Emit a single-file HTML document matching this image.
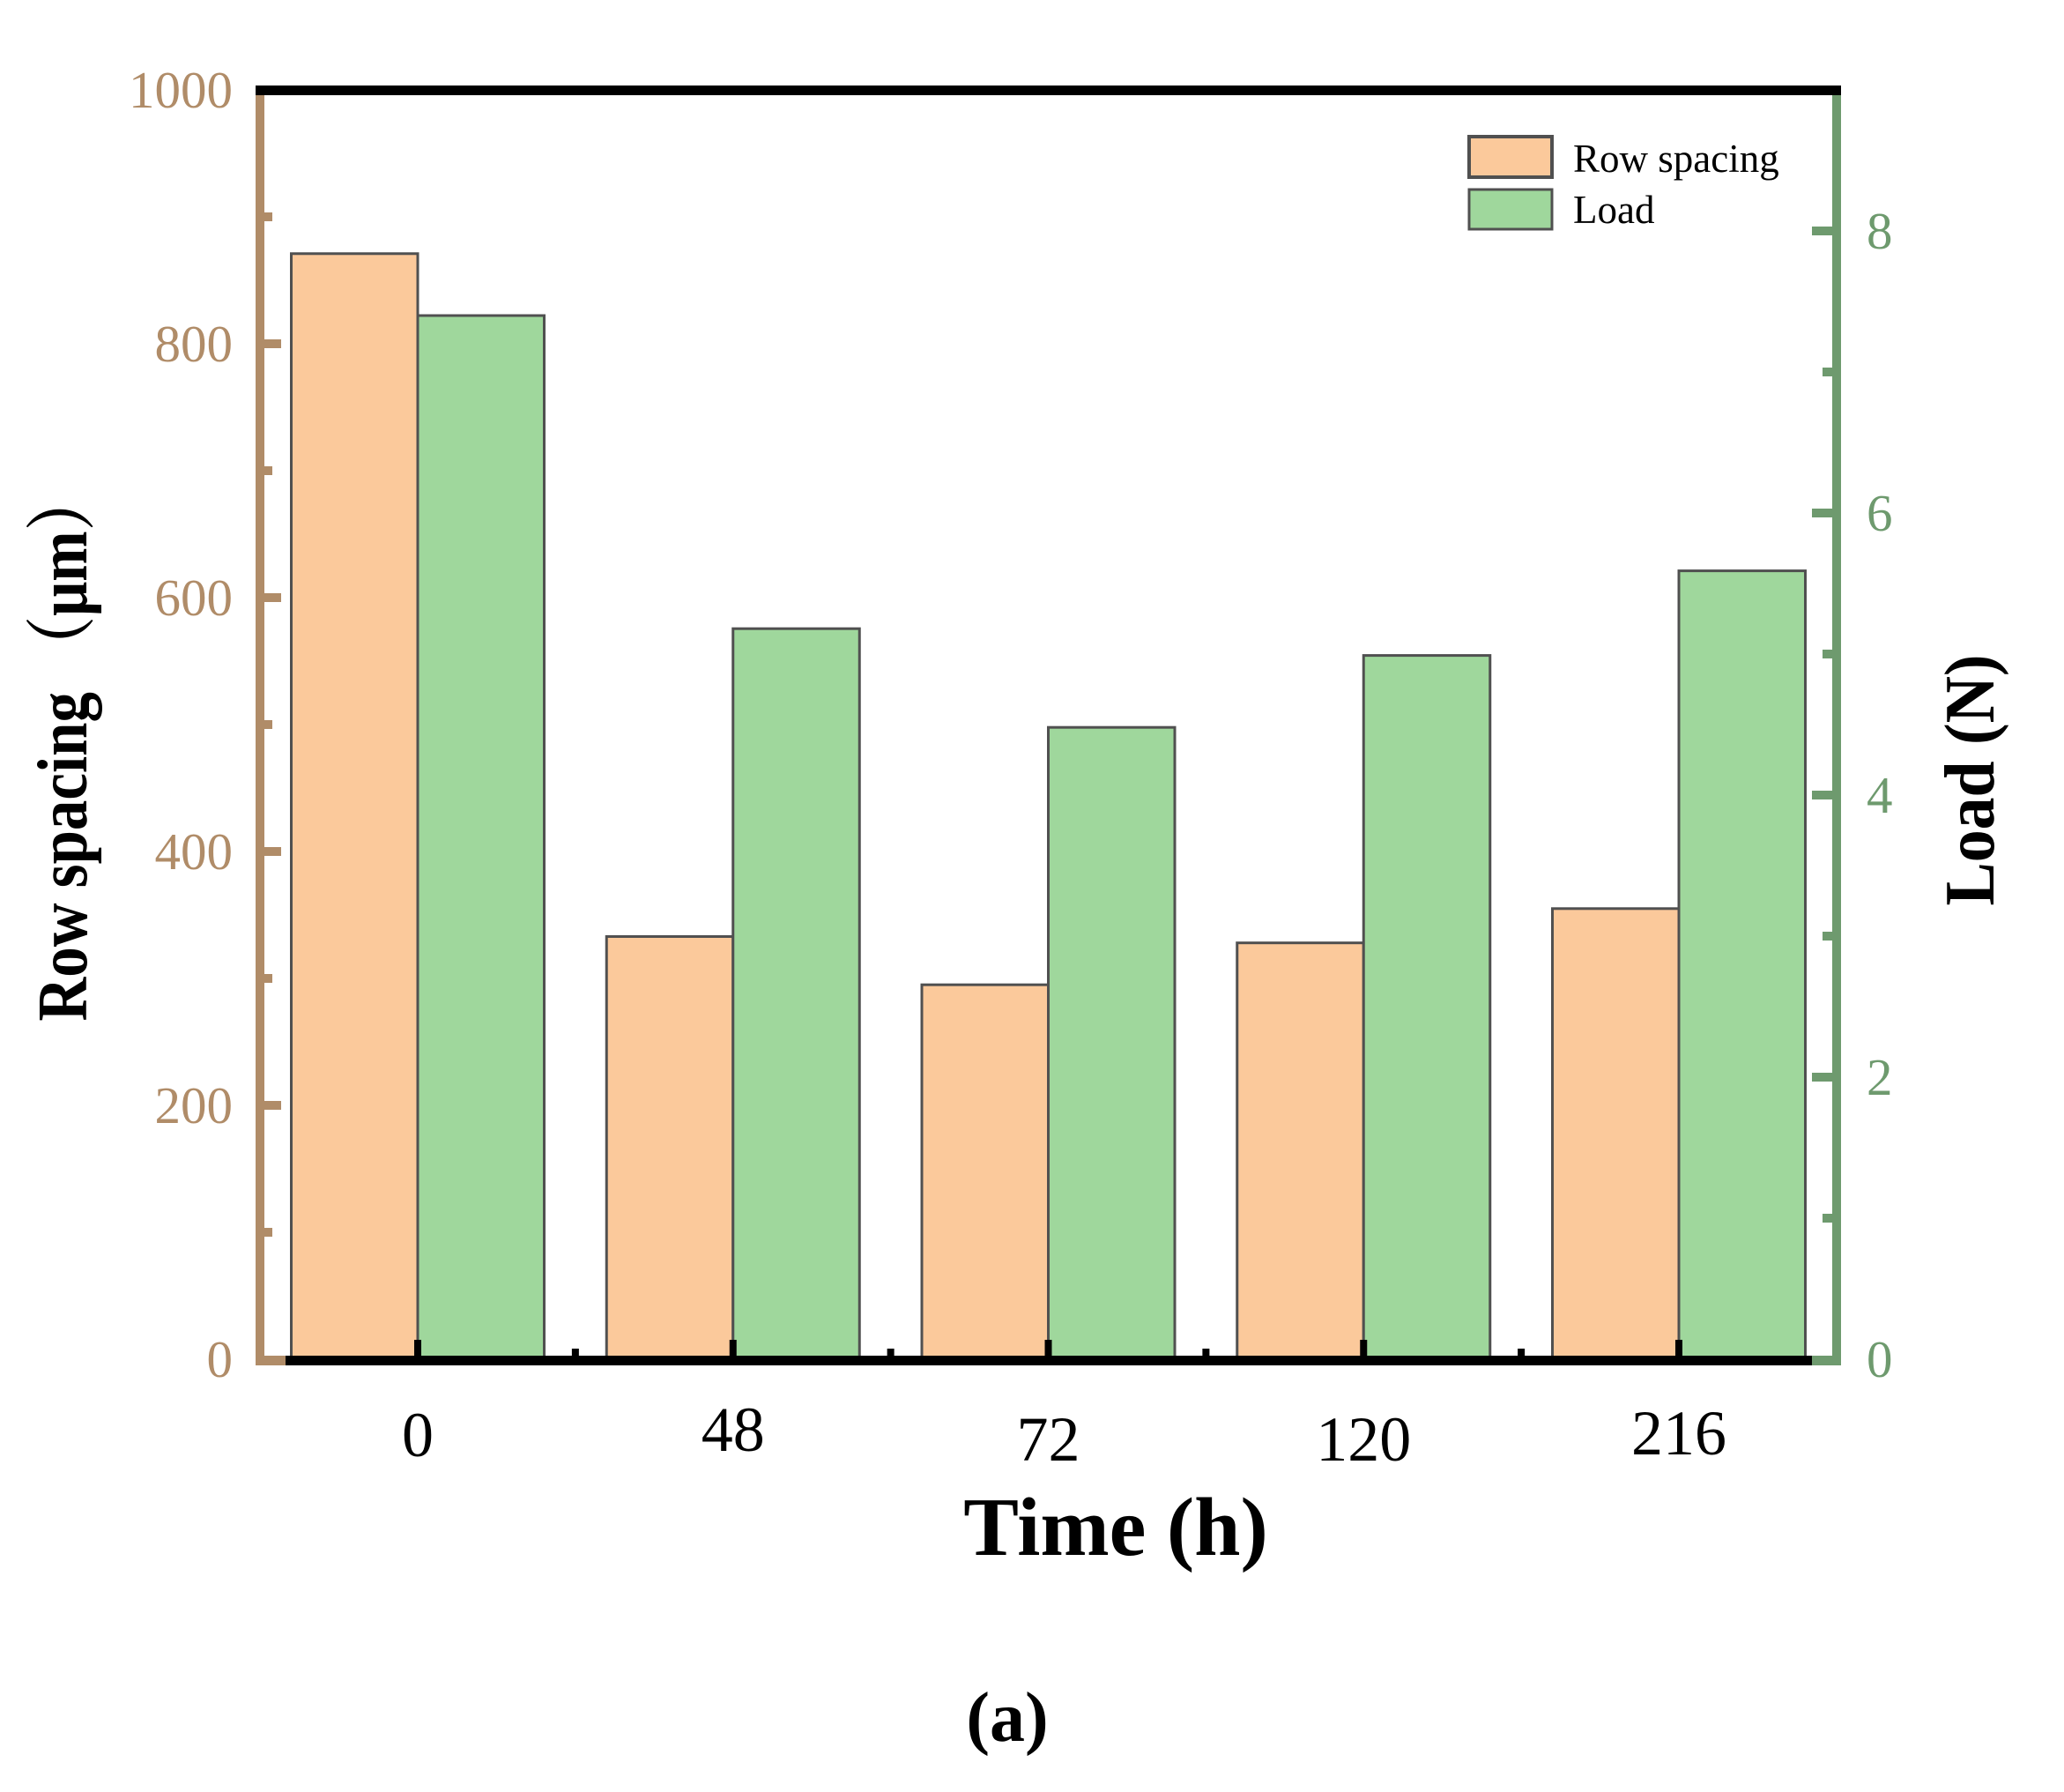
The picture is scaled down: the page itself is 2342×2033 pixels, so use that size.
<!DOCTYPE html>
<html><head><meta charset="utf-8">
<style>
html,body{margin:0;padding:0;background:#fff;}
svg{display:block;}
text{font-family:"Liberation Serif","Noto Serif CJK SC",serif;}
</style></head>
<body>
<svg id="chart" width="2342" height="2033" viewBox="0 0 2342 2033" xmlns="http://www.w3.org/2000/svg">
<g id="bars"></g>
<g id="axes"></g>
<g id="labels"></g>
<text x="1266" y="1764" font-size="94" font-weight="bold" text-anchor="middle">Time (h)</text>
<text transform="translate(98,846) rotate(-90)" font-size="80" font-weight="bold" text-anchor="middle" textLength="625" lengthAdjust="spacingAndGlyphs">Row spacing （μm）</text>
<text transform="translate(2262,885) rotate(-90)" font-size="80" font-weight="bold" text-anchor="middle" textLength="285" lengthAdjust="spacingAndGlyphs">Load (N)</text>
<text x="1143" y="1975" font-size="80" font-weight="bold" text-anchor="middle">(a)</text>
<g>
<rect x="1667" y="155" width="94" height="46" fill="#fbc99b" stroke="#505050" stroke-width="4"/>
<text x="1785" y="195" font-size="45">Row spacing</text>
<rect x="1667" y="215" width="94" height="45" fill="#9fd79c" stroke="#505050" stroke-width="3"/>
<text x="1785" y="253" font-size="45">Load</text>
</g>
</svg>
<script>
const categories = ["0", "48", "72", "120", "216"];
const rowSpacing = [871, 333, 295, 328, 355];
const load = [7.40, 5.18, 4.48, 4.99, 5.59];
const leftTicks = [0, 200, 400, 600, 800, 1000];
const rightTicks = [0, 2, 4, 6, 8];
const labelBaselines = [1652, 1646, 1657, 1657, 1650];

const NS = "http://www.w3.org/2000/svg";
const X0 = 474, XSTEP = 357.75, BW = 143.5;
const Y0 = 1542, YTOP = 102;
const yL = v => Y0 - v / 1000 * (Y0 - YTOP);
const yR = v => Y0 - v / 9 * (Y0 - YTOP);
const xC = i => X0 + i * XSTEP;
const LX = 295, RX = 2084;
const brown = "#b08c68", green = "#6e9a6e";

function mk(tag, attrs, parent) {
  const e = document.createElementNS(NS, tag);
  for (const k in attrs) e.setAttribute(k, attrs[k]);
  parent.appendChild(e);
  return e;
}
const bars = document.getElementById("bars");
const axes = document.getElementById("axes");
const labels = document.getElementById("labels");

categories.forEach((c, i) => {
  const cx = xC(i);
  const r1 = mk("rect", {x: cx - BW, y: yL(rowSpacing[i]), width: BW, height: Y0 - yL(rowSpacing[i]), fill: "#fbc99b", stroke: "#505050", "stroke-width": 3}, bars);
  
  
  const r2 = mk("rect", {x: cx, y: yR(load[i]), width: BW, height: Y0 - yR(load[i]), fill: "#9fd79c", stroke: "#505050", "stroke-width": 3}, bars);
  
  
  const t = mk("text", {x: cx, y: labelBaselines[i], "font-size": 72, "text-anchor": "middle", fill: "#000"}, labels);
  t.textContent = c;
  
  
  const tk = mk("rect", {x: cx - 4, y: Y0 - 22, width: 8, height: 22, fill: "#000"}, axes);
  
  
  if (i < categories.length - 1) {
    const mt = mk("rect", {x: cx + XSTEP / 2 - 4, y: Y0 - 12, width: 8, height: 12, fill: "#000"}, axes);
    
    
  }
});

let e;
e = mk("rect", {x: LX - 5, y: YTOP, width: 10, height: Y0 + 7 - YTOP, fill: brown}, axes);


e = mk("rect", {x: LX - 5, y: Y0 - 4, width: 35, height: 11, fill: brown}, axes);


leftTicks.forEach((v, i) => {
  const y = yL(v);
  if (v > 0 && v < 1000) {
    const t = mk("rect", {x: LX, y: y - 5, width: 24, height: 10, fill: brown}, axes);
    
    
  }
  if (i < leftTicks.length - 1) {
    const t = mk("rect", {x: LX, y: yL(v + 100) - 5, width: 14, height: 10, fill: brown}, axes);
    
    
  }
  const l = mk("text", {x: 264, y: y + 20, "font-size": 59, "text-anchor": "end", fill: brown}, labels);
  l.textContent = v;
  
  
});

e = mk("rect", {x: RX - 5, y: YTOP, width: 10, height: Y0 + 7 - YTOP, fill: green}, axes);


e = mk("rect", {x: 2052, y: Y0 - 4, width: RX + 5 - 2052, height: 11, fill: green}, axes);


rightTicks.forEach((v, i) => {
  const y = yR(v);
  if (v > 0) {
    const t = mk("rect", {x: RX - 28, y: y - 5, width: 28, height: 10, fill: green}, axes);
    
    
  }
  const t2 = mk("rect", {x: RX - 16, y: yR(v + 1) - 5, width: 16, height: 10, fill: green}, axes);
  
  
  const l = mk("text", {x: 2118, y: y + 20, "font-size": 59, "text-anchor": "start", fill: green}, labels);
  l.textContent = v;
  
  
});

e = mk("rect", {x: LX - 5, y: YTOP - 5, width: RX - LX + 10, height: 11, fill: "#000"}, axes);


e = mk("rect", {x: 324, y: Y0 - 4, width: 2056 - 324, height: 11, fill: "#000"}, axes);


</script>
</body></html>
